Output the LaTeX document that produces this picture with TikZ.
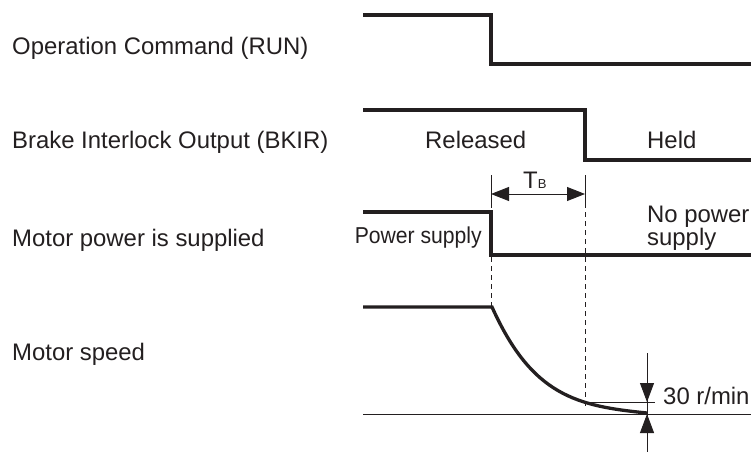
\documentclass[tikz,border=0pt]{standalone}
\usepackage{fontspec}
\setmainfont{Liberation Sans}
\usetikzlibrary{arrows.meta}
\definecolor{ink}{RGB}{35,31,32}
\begin{document}
\begin{tikzpicture}[x=1pt,y=-1pt,
  sig/.style={line width=3.3pt, draw=ink, line join=miter},
  thinln/.style={line width=0.9pt, draw=ink},
  dsh/.style={line width=0.8pt, draw=ink, dash pattern=on 5pt off 4pt},
  lbl/.style={font=\fontsize{23.9}{23}\selectfont, text=ink, inner sep=0pt, anchor=base west},
  >={Triangle[length=19pt,width=14pt]}]
\useasboundingbox (0,0) rectangle (751,452);
% labels
\node[lbl] (lrun) at (12,55) {Operation Command (RUN)};
\node[lbl] (lbk) at (12,148) {Brake Interlock Output (BKIR)};
\node[lbl] (lpow) at (12,246) {Motor power is supplied};
\node[lbl] (lspd) at (12,360) {Motor speed};
\node[lbl] (trel) at (425,148) {Released};
\node[lbl] (theld) at (647,148) {Held};
\node[lbl, anchor=base east, font=\fontsize{23}{23}\selectfont] (tps) at (482,243) {\scalebox{0.92}[1]{Power supply}};
\node[lbl] (tnp1) at (647,222) {No power};
\node[lbl] (tnp2) at (647,245) {supply};
\node[lbl] (t30) at (663,404) {30 r/min};
\node[lbl] (ttb) at (523,188) {T{\fontsize{13}{12}\selectfont B}};
% RUN
\draw[sig] (363,15) -- (491,15) -- (491,64) -- (751,64);
% BKIR
\draw[sig] (363,110) -- (585,110) -- (585,160) -- (751,160);
% Power
\draw[sig] (363,212) -- (491,212) -- (491,255) -- (751,255);
% Speed
\coordinate (s0) at (492,307);
\coordinate (s1) at (647,413);
\draw[sig] (363,307) -- (s0) .. controls (532,396) and (577,406) .. (s1);
\draw[thinln] (363,414) -- (751,414);
% TB extension lines
\coordinate (ea1) at (491,175); \coordinate (ea2) at (491,203); \coordinate (ea3) at (491,307);
\coordinate (eb1) at (585,175); \coordinate (eb2) at (585,203); \coordinate (eb3) at (585,408);
\draw[thinln] (ea1) -- (ea2);
\draw[thinln] (eb1) -- (eb2);
\draw[dsh] (ea2) -- (ea3);
\draw[dsh] (eb2) -- (eb3);
\coordinate (tba) at (491,194); \coordinate (tbb) at (585,194);
\draw[thinln, {Triangle[length=18pt,width=14pt]}-{Triangle[length=18pt,width=14pt]}] (tba) -- (tbb);
% 30 r/min dimension
\coordinate (h0) at (585,402); \coordinate (h1) at (655,402);
\coordinate (v0) at (647,353); \coordinate (v1) at (647,452);
\coordinate (da0) at (647,383); \coordinate (da1) at (647,402);
\coordinate (ua0) at (647,433); \coordinate (ua1) at (647,414);
\draw[thinln] (h0) -- (h1);
\draw[thinln] (v0) -- (v1);
\draw[thinln, ->] (da0) -- (da1);
\draw[thinln, ->] (ua0) -- (ua1);
\end{tikzpicture}
\end{document}
